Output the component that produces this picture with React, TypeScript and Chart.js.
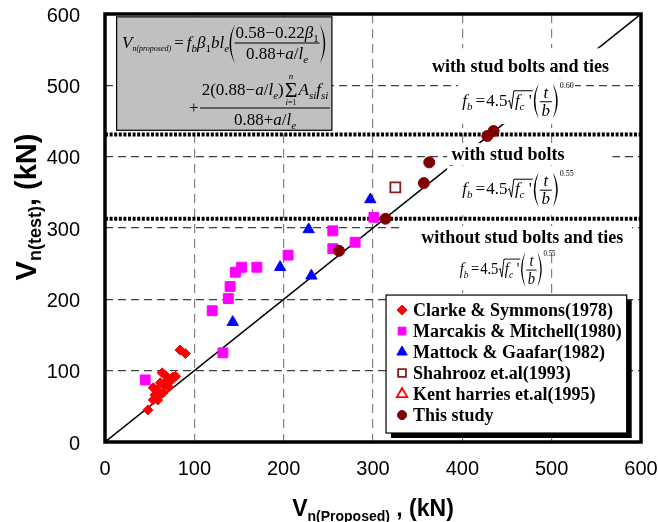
import React, { useEffect, useRef } from "react";
import { Chart, registerables } from "chart.js";
import { drawPoint } from "chart.js/helpers";

Chart.register(...registerables);

// ---- data (kN) ----
const clarkeX = [48, 54, 56, 59, 54, 58, 60, 62, 64, 65, 66, 68, 70, 71, 73, 76, 79, 84, 90];
const clarkeY = [45, 59, 66, 59, 76, 73, 64, 83, 97, 69, 80, 93, 87, 77, 85, 91, 92, 129, 124];

const marcakisX = [45, 120, 132, 138, 140, 146, 153, 170, 205, 255, 255, 280, 301];
const marcakisY = [87, 184, 125, 201, 218, 238, 245, 245, 262, 296, 271, 280, 315];

const mattockX = [143, 196, 228, 231, 297];
const mattockY = [168, 245, 298, 233, 340];

const shahroozX = [325];
const shahroozY = [357];

const kentX: number[] = [];
const kentY: number[] = [];

const studyX = [262, 314, 357, 363, 428, 435];
const studyY = [268, 313, 363, 392, 429, 436];

// line of equality and the f_b regime boundaries
const equalityX = [0, 600];
const equalityY = [0, 600];
const regimeLimits = [313, 431];

const axisTicks = [0, 100, 200, 300, 400, 500, 600];

const seriesLabels = [
  "Clarke & Symmons(1978)",
  "Marcakis & Mitchell(1980)",
  "Mattock & Gaafar(1982)",
  "Shahrooz et.al(1993)",
  "Kent harries et.al(1995)",
  "This study",
];

const regimeTitles = [
  "with stud bolts and ties",
  "with stud bolts",
  "without stud bolts and ties",
];
const regimeExponents = ["0.60", "0.55", "0.55"];

// ---- fonts ----
const SERIF = '"Liberation Serif", "Times New Roman", serif';
const SANS = '"Liberation Sans", Arial, sans-serif';
const sf = (size: number, style = "") => `${style} ${size}px ${SERIF}`.trim();
const I17 = sf(17, "italic");
const R17 = sf(17);
const I11 = sf(11, "italic");
const R11 = sf(11);
const I8 = sf(8, "italic");
const R8 = sf(8);
const I9 = sf(9, "italic");
const R22 = sf(22);

type Run = [string, string, number?];

function measure(ctx: CanvasRenderingContext2D, runs: Run[]) {
  let w = 0;
  for (const [t, f] of runs) {
    ctx.font = f;
    w += ctx.measureText(t).width;
  }
  return w;
}

function drawRuns(ctx: CanvasRenderingContext2D, x: number, y: number, runs: Run[]) {
  for (const [t, f, dy = 0] of runs) {
    ctx.font = f;
    ctx.fillText(t, x, y + dy);
    x += ctx.measureText(t).width;
  }
  return x;
}

function drawRunsCentered(ctx: CanvasRenderingContext2D, cx: number, y: number, runs: Run[]) {
  const w = measure(ctx, runs);
  drawRuns(ctx, cx - w / 2, y, runs);
}

// crescent-shaped bracket; x is the outer extreme
function paren(ctx: CanvasRenderingContext2D, x: number, top: number, bottom: number, open: boolean) {
  const mid = (top + bottom) / 2;
  const w = (bottom - top) * 0.14;
  const t = 1.5;
  ctx.beginPath();
  if (open) {
    ctx.moveTo(x + w, top);
    ctx.quadraticCurveTo(x - w, mid, x + w, bottom);
    ctx.quadraticCurveTo(x + 2 * t - w, mid, x + w, top);
  } else {
    ctx.moveTo(x, top);
    ctx.quadraticCurveTo(x + 2 * w, mid, x, bottom);
    ctx.quadraticCurveTo(x + 2 * w - 2 * t, mid, x, top);
  }
  ctx.fill();
}

function hline(ctx: CanvasRenderingContext2D, x0: number, x1: number, y: number) {
  ctx.beginPath();
  ctx.moveTo(x0, y);
  ctx.lineTo(x1, y);
  ctx.lineWidth = 1;
  ctx.stroke();
}

// V_n(proposed) expression inside the grey panel
function drawProposedFormula(ctx: CanvasRenderingContext2D, bx: number, by: number) {
  const base1 = by + 31;
  const bar1 = by + 26;
  let x = bx + 5;
  x = drawRuns(ctx, x, base1, [["V", I17], ["n(proposed)", I8, 3]]);
  x = drawRuns(ctx, x + 3, base1, [["=", R17]]);
  x = drawRuns(ctx, x + 3, base1, [
    ["f", I17],
    ["b", I11, 4],
    ["β", I17],
    ["1", R11, 4],
    ["bl", I17],
    ["e", I11, 4],
  ]);
  const pOpen = x + 0.5;
  paren(ctx, pOpen, by + 7, by + 47, true);
  const num1: Run[] = [["0.58", R17], ["−", R17], ["0.22", R17], ["β", I17], ["1", R11, 4]];
  const den1: Run[] = [["0.88", R17], ["+", R17], ["a", I17], ["/", R17], ["l", I17], ["e", I11, 4]];
  const w1 = Math.max(measure(ctx, num1), measure(ctx, den1));
  const fx = pOpen + 6;
  drawRunsCentered(ctx, fx + w1 / 2, by + 21, num1);
  hline(ctx, fx - 1, fx + w1 + 1, bar1);
  drawRunsCentered(ctx, fx + w1 / 2, by + 42, den1);
  paren(ctx, fx + w1 + 1, by + 7, by + 47, false);

  // second term
  const bar2 = by + 91;
  const x0 = bx + 83;
  const x1 = bx + 213;
  hline(ctx, x0, x1, bar2);
  drawRuns(ctx, bx + 72, bar2 + 5, [["+", R17]]);
  const left: Run[] = [["2(0.88", R17], ["−", R17], ["a", I17], ["/", R17], ["l", I17], ["e", I11, 4], [")", R17]];
  const right: Run[] = [["A", I17], ["si", I11, 4], ["f", I17], ["si", I11, 4]];
  ctx.font = R22;
  const sigW = ctx.measureText("Σ").width;
  const total = measure(ctx, left) + sigW + 2 + measure(ctx, right);
  let nx = (x0 + x1) / 2 - total / 2;
  const nb = by + 78;
  nx = drawRuns(ctx, nx, nb, left);
  ctx.font = R22;
  ctx.fillText("Σ", nx + 1, nb + 2);
  drawRunsCentered(ctx, nx + 1 + sigW / 2, by + 62, [["n", I9]]);
  drawRunsCentered(ctx, nx + 1 + sigW / 2, by + 88, [["i", I9], ["=1", R8]]);
  nx += sigW + 2;
  drawRuns(ctx, nx, nb, right);
  drawRunsCentered(ctx, (x0 + x1) / 2, by + 108, [["0.88", R17], ["+", R17], ["a", I17], ["/", R17], ["l", I17], ["e", I11, 4]]);
}

// f_b = 4.5 sqrt(f'c) (t/b)^exp
function drawFb(ctx: CanvasRenderingContext2D, x: number, barY: number, exp: string, sx: number) {
  ctx.save();
  ctx.translate(x, 0);
  ctx.scale(sx, 1);
  const base = barY + 4;
  let cx = drawRuns(ctx, 0, base, [["f", I17], ["b", I11, 4]]);
  cx = drawRuns(ctx, cx + 3, base, [["=", R17]]);
  cx = drawRuns(ctx, cx + 1, base, [["4.5", R17]]);
  const r0 = cx + 0.5;
  const inner: Run[] = [["f", I17], ["c", I11, 4], [" '", R17]];
  const iw = measure(ctx, inner);
  const top = base - 15;
  ctx.beginPath();
  ctx.moveTo(r0, base - 4);
  ctx.lineTo(r0 + 1.5, base - 5.5);
  ctx.lineTo(r0 + 3.5, base + 3);
  ctx.lineTo(r0 + 6, top);
  ctx.lineTo(r0 + 7 + iw + 1, top);
  ctx.lineWidth = 1;
  ctx.stroke();
  cx = drawRuns(ctx, r0 + 7, base, inner);
  const po = cx + 2;
  paren(ctx, po, barY - 18, barY + 17, true);
  const fw = 12;
  const fx = po + 6;
  drawRunsCentered(ctx, fx + fw / 2, barY - 4, [["t", I17]]);
  hline(ctx, fx, fx + fw, barY);
  drawRunsCentered(ctx, fx + fw / 2, barY + 14, [["b", I17]]);
  paren(ctx, fx + fw + 1, barY - 18, barY + 17, false);
  drawRuns(ctx, fx + fw + 8, barY - 14, [[exp, R8]]);
  ctx.restore();
}

// annotation placement in axis units
const panelBox = [13, 254, 596, 437]; // x0, x1, yTop, yBottom
const regimeTitleAt = [
  [465, 519],
  [451, 395],
  [467, 279],
];
const regimeTitleBox = [
  [358, 571, 552, 510],
  [383, 568, 419, 388],
  [332, 590, 303, 269],
];
const regimeFormulaAt = [
  [400, 477],
  [400, 353],
  [397, 241],
];
const regimeFormulaBox = [
  [395, 526, 510, 446],
  [383, 523, 387, 318],
  [392, 497, 269, 213],
];
const regimeFormulaScale = [1, 1, 0.86];
const legendBox = [314.6, 584, 206, 12.6];
const legendMarkerRadius = [5, 5.5, 6, 5.5, 6, 4.5];

const annotationPlugin = {
  id: "regimeAnnotations",
  afterDatasetDraw(chart: any, args: any) {
    if (args.index !== 0) return;
    const ctx: CanvasRenderingContext2D = chart.ctx;
    const xs = chart.scales.x;
    const ys = chart.scales.y;
    const X = (v: number) => xs.getPixelForValue(v);
    const Y = (v: number) => ys.getPixelForValue(v);
    ctx.save();
    ctx.textAlign = "left";
    ctx.textBaseline = "alphabetic";

    // white backing of the regime labels
    ctx.fillStyle = "#fff";
    for (const b of [...regimeTitleBox, ...regimeFormulaBox]) {
      ctx.fillRect(X(b[0]), Y(b[2]), X(b[1]) - X(b[0]), Y(b[3]) - Y(b[2]));
    }

    // grey panel with the proposed expression
    const px0 = X(panelBox[0]);
    const py0 = Y(panelBox[2]);
    ctx.fillStyle = "#c0c0c0";
    ctx.fillRect(px0, py0, X(panelBox[1]) - px0, Y(panelBox[3]) - py0);
    ctx.strokeStyle = "#000";
    ctx.lineWidth = 1.2;
    ctx.strokeRect(px0, py0, X(panelBox[1]) - px0, Y(panelBox[3]) - py0);
    ctx.fillStyle = "#000";
    drawProposedFormula(ctx, Math.round(px0), Math.round(py0));

    // regime titles and f_b expressions
    for (let i = 0; i < regimeTitles.length; i++) {
      ctx.font = `bold 18px ${SERIF}`;
      ctx.textAlign = "center";
      ctx.fillText(regimeTitles[i], X(regimeTitleAt[i][0]), Y(regimeTitleAt[i][1]));
      ctx.textAlign = "left";
      drawFb(ctx, X(regimeFormulaAt[i][0]), Y(regimeFormulaAt[i][1]), regimeExponents[i], regimeFormulaScale[i]);
    }
    ctx.restore();
  },
};

const framePlugin = {
  id: "frameAndLegend",
  afterDraw(chart: any) {
    const ctx: CanvasRenderingContext2D = chart.ctx;
    const { left, right, top, bottom } = chart.chartArea;
    const xs = chart.scales.x;
    const ys = chart.scales.y;
    ctx.save();

    // legend with drop shadow
    const lx = xs.getPixelForValue(legendBox[0]);
    const lr = xs.getPixelForValue(legendBox[1]);
    const lt = ys.getPixelForValue(legendBox[2]);
    const lb = ys.getPixelForValue(legendBox[3]);
    ctx.fillStyle = "#000";
    ctx.fillRect(lx + 5, lt + 5, lr - lx, lb - lt);
    ctx.fillStyle = "#fff";
    ctx.fillRect(lx, lt, lr - lx, lb - lt);
    ctx.strokeStyle = "#000";
    ctx.lineWidth = 1.2;
    ctx.strokeRect(lx, lt, lr - lx, lb - lt);
    const series = chart.data.datasets.filter((d: any) => d.label);
    series.forEach((d: any, i: number) => {
      const cy = lt + 15 + i * 21;
      ctx.fillStyle = d.backgroundColor;
      ctx.strokeStyle = d.borderColor;
      ctx.lineWidth = d.borderWidth;
      drawPoint(
        ctx,
        { pointStyle: d.pointStyle, rotation: 0, radius: legendMarkerRadius[i], borderWidth: d.borderWidth },
        lx + 16,
        cy
      );
      ctx.fillStyle = "#000";
      ctx.font = `bold 18px ${SERIF}`;
      ctx.textAlign = "left";
      ctx.textBaseline = "alphabetic";
      ctx.fillText(d.label, lx + 27, cy + 6);
    });

    // heavy plot frame
    ctx.strokeStyle = "#000";
    ctx.lineWidth = 3.5;
    ctx.strokeRect(left, top, right - left, bottom - top);

    // axis titles
    ctx.fillStyle = "#000";
    ctx.textAlign = "left";
    ctx.textBaseline = "alphabetic";
    const B = (s: number) => `bold ${s}px ${SANS}`;
    drawRunsCentered(ctx, (left + right) / 2, 516, [
      ["V", B(23)],
      ["n(Proposed)", B(14), 5],
      [" , (kN)", B(23)],
    ]);
    ctx.translate(36, 207);
    ctx.rotate(-Math.PI / 2);
    drawRunsCentered(ctx, 0, 0, [
      ["V", B(29)],
      ["n(test)", B(18), 5],
      [", (kN)", B(29)],
    ]);
    ctx.restore();
  },
};

const pts = (xs: number[], ys: number[]) => xs.map((x, i) => ({ x, y: ys[i] }));

export default function App() {
  const ref = useRef<HTMLCanvasElement>(null);

  useEffect(() => {
    const canvas = ref.current;
    if (!canvas) return;
    const tickFont = { family: SANS, size: 20 };
    const chart = new Chart(canvas, {
      type: "scatter",
      data: {
        datasets: [
          {
            data: pts(equalityX, equalityY),
            showLine: true,
            borderColor: "#000",
            borderWidth: 1.5,
            pointRadius: 0,
            order: 100,
          },
          ...regimeLimits.map((v) => ({
            data: [
              { x: equalityX[0], y: v },
              { x: equalityX[1], y: v },
            ],
            showLine: true,
            borderColor: "#000",
            borderWidth: 4,
            borderDash: [3, 1.6],
            pointRadius: 0,
            order: 50,
          })),
          {
            label: seriesLabels[0],
            data: pts(clarkeX, clarkeY),
            pointStyle: "rectRot",
            pointRadius: 5,
            backgroundColor: "#ff0000",
            borderColor: "#ff0000",
            borderWidth: 1,
            order: 6,
          },
          {
            label: seriesLabels[1],
            data: pts(marcakisX, marcakisY),
            pointStyle: "rect",
            pointRadius: 7,
            backgroundColor: "#ff00ff",
            borderColor: "#ff00ff",
            borderWidth: 1,
            order: 5,
          },
          {
            label: seriesLabels[2],
            data: pts(mattockX, mattockY),
            pointStyle: "triangle",
            pointRadius: 6.5,
            backgroundColor: "#0000ff",
            borderColor: "#0000ff",
            borderWidth: 1,
            order: 4,
          },
          {
            label: seriesLabels[3],
            data: pts(shahroozX, shahroozY),
            pointStyle: "rect",
            pointRadius: 7,
            backgroundColor: "#ffffff",
            borderColor: "#8b1a1a",
            borderWidth: 1.8,
            order: 3,
          },
          {
            label: seriesLabels[4],
            data: pts(kentX, kentY),
            pointStyle: "triangle",
            pointRadius: 6.5,
            backgroundColor: "#ffffff",
            borderColor: "#ff0000",
            borderWidth: 1.8,
            order: 2,
          },
          {
            label: seriesLabels[5],
            data: pts(studyX, studyY),
            pointStyle: "circle",
            pointRadius: 5.5,
            backgroundColor: "#800000",
            borderColor: "#800000",
            borderWidth: 1,
            order: 1,
          },
        ],
      },
      options: {
        responsive: false,
        animation: false,
        devicePixelRatio: 1,
        layout: { padding: { left: 0, right: 17, top: 14, bottom: 0 } },
        plugins: { legend: { display: false }, tooltip: { enabled: false } },
        scales: {
          x: {
            type: "linear",
            min: axisTicks[0],
            max: axisTicks[axisTicks.length - 1],
            afterFit: (s: any) => {
              s.height = 80;
              s.paddingLeft = 0;
              s.paddingRight = 0;
            },
            afterBuildTicks: (s: any) => {
              s.ticks = axisTicks.map((v) => ({ value: v }));
            },
            ticks: { padding: 15, color: "#000", font: tickFont },
            grid: { color: "#808080", lineWidth: 1.2, drawTicks: false },
            border: { display: false, dash: [9, 6] },
          },
          y: {
            type: "linear",
            min: axisTicks[0],
            max: axisTicks[axisTicks.length - 1],
            afterFit: (s: any) => {
              s.width = 105;
              s.paddingTop = 0;
              s.paddingBottom = 0;
            },
            afterBuildTicks: (s: any) => {
              s.ticks = axisTicks.map((v) => ({ value: v }));
            },
            ticks: { padding: 25, labelOffset: 2, color: "#000", font: tickFont },
            grid: { color: "#404040", lineWidth: 1.2, drawTicks: false },
            border: { display: false, dash: [8, 5] },
          },
        },
      },
      plugins: [annotationPlugin, framePlugin],
    } as any);
    return () => chart.destroy();
  }, []);

  return (
    <div style={{ position: "fixed", left: 0, top: 0, width: 658, height: 522, background: "#fff" }}>
      <canvas ref={ref} width={658} height={522} style={{ display: "block", width: 658, height: 522 }} />
    </div>
  );
}
